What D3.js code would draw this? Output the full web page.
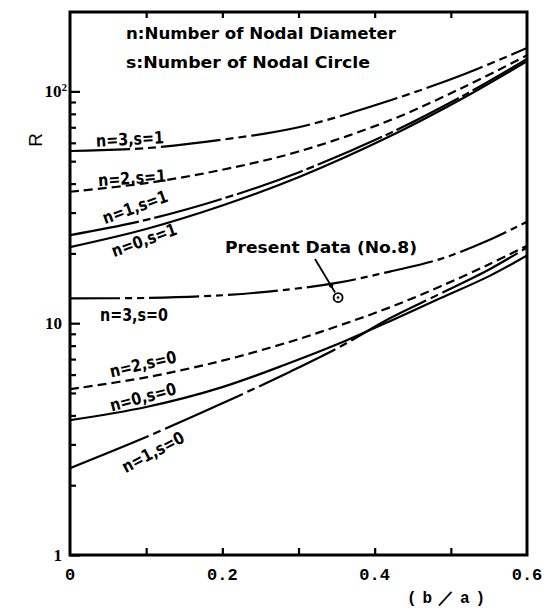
<!DOCTYPE html>
<meta charset="utf-8">
<head>
<script src="https://d3js.org/d3.v7.min.js"></script>
<style>
body { margin: 0; background: #fff; }
svg text { fill: #000; }
</style>
</head>
<body>
<div id="chart"></div>
<script>
var ba = [0, 0.1, 0.2, 0.3, 0.42, 0.52, 0.6];

// frequency parameter R for each mode (n nodal diameters, s nodal circles)
var r_n3s1 = [55.3, 56.9, 61.9, 70, 91.4, 119.5, 154];
var r_n2s1 = [36.9, 40.2, 45.9, 55, 75, 105.5, 143];
var r_n1s1 = [24.0, 27.9, 34.4, 44.7, 66, 97.3, 138];
var r_n0s1 = [21.3, 25.5, 32.2, 42.6, 64, 95, 135];

var ba0 = [0, 0.1, 0.2, 0.289, 0.354, 0.42, 0.486, 0.551, 0.6];
var r_n3s0 = [12.8, 12.85, 13.2, 14.0, 15.0, 16.7, 18.9, 22.9, 27.4];
var r_n2s0 = [5.19, 5.84, 6.89, 8.32, 9.78, 11.7, 14.4, 18.0, 21.6];
var r_n0s0 = [3.82, 4.35, 5.3, 6.75, 8.19, 10.2, 12.8, 16.0, 19.6];
var r_n1s0 = [2.37, 3.23, 4.51, 6.18, 7.9, 10.5, 13.4, 17.1, 21.2];

var modeNames = ["n=3,s=1", "n=2,s=1", "n=1,s=1", "n=0,s=1",
                 "n=3,s=0", "n=2,s=0", "n=0,s=0", "n=1,s=0"];

// present measured point (No.8)
var presentBa = 0.352, presentR = 12.9;

var xTicks = [0, 0.1, 0.2, 0.3, 0.4, 0.5, 0.6];
var xTickLabels = ["0", "", "0.2", "", "0.4", "", "0.6"];
var yMajor = [1, 10, 100];
var yMinor = [2, 3, 4, 5, 6, 7, 8, 9, 20, 30, 40, 50, 60, 70, 80, 90];

var width = 553, height = 608;
var pLeft = 70, pRight = 527, pTop = 12, pBottom = 555;

var svg = d3.select("#chart").append("svg")
    .attr("width", width)
    .attr("height", height);

var x = d3.scaleLinear().domain([0, 0.6]).range([pLeft, pRight]);
var y = d3.scaleLog().domain([1, 220]).range([pBottom, pTop]);

var series = [
  {xs: ba, rs: r_n3s1, dash: "60,5,8,5,8,5"},
  {xs: ba, rs: r_n2s1, dash: "9,5"},
  {xs: ba, rs: r_n1s1, dash: "70,4,8,4"},
  {xs: ba, rs: r_n0s1, dash: null},
  {xs: ba0, rs: r_n3s0, dash: "50,5,7,5,7,5"},
  {xs: ba0, rs: r_n2s0, dash: "9,5"},
  {xs: ba0, rs: r_n0s0, dash: null},
  {xs: ba0, rs: r_n1s0, dash: "85,5,8,5"}
];

var line = d3.line()
    .x(function(d) { return x(d[0]); })
    .y(function(d) { return y(d[1]); })
    .curve(d3.curveCatmullRom.alpha(0.5));

svg.append("defs").append("clipPath").attr("id", "plot")
  .append("rect").attr("x", pLeft).attr("y", pTop)
  .attr("width", pRight - pLeft).attr("height", pBottom - pTop);

svg.append("g").attr("clip-path", "url(#plot)")
  .selectAll("path").data(series).enter().append("path")
    .attr("d", function(s) { return line(s.xs.map(function(v, i) { return [v, s.rs[i]]; })); })
    .attr("fill", "none")
    .attr("stroke", "#000")
    .attr("stroke-width", 2.2)
    .attr("stroke-dasharray", function(s) { return s.dash; });

// ticks
var bottomAxis = d3.axisBottom(x).tickValues(xTicks.slice(1, 6)).tickSize(-7).tickFormat("");
var topAxis = d3.axisTop(x).tickValues(xTicks.slice(1, 6)).tickSize(-6).tickFormat("");
var leftMinor = d3.axisLeft(y).tickValues(yMinor).tickSize(-6).tickFormat("");
var leftMajor = d3.axisLeft(y).tickValues(yMajor).tickSize(-10).tickFormat("");

[[bottomAxis, "translate(0," + pBottom + ")"], [topAxis, "translate(0," + pTop + ")"],
 [leftMinor, "translate(" + pLeft + ",0)"], [leftMajor, "translate(" + pLeft + ",0)"]].forEach(function(a) {
  var g = svg.append("g").attr("transform", a[1]).call(a[0]);
  g.select(".domain").remove();
  g.selectAll("line").attr("stroke", "#000").attr("stroke-width", 2.2);
});

svg.append("rect")
    .attr("x", pLeft).attr("y", pTop)
    .attr("width", pRight - pLeft).attr("height", pBottom - pTop)
    .attr("fill", "none").attr("stroke", "#000").attr("stroke-width", 3);

// tick labels
svg.selectAll(".xl").data(xTicks).enter().append("text")
    .attr("x", function(d) { return x(d); })
    .attr("y", 580)
    .attr("text-anchor", "middle")
    .style("font", "bold 17px 'Liberation Mono', monospace")
    .text(function(d, i) { return xTickLabels[i]; });

svg.append("text")
    .attr("x", 446).attr("y", 603)
    .attr("text-anchor", "middle")
    .attr("textLength", 78)
    .style("font", "bold 16px 'Liberation Mono', monospace")
    .text("(b／a)");

var yl = svg.selectAll(".yl").data(yMajor).enter().append("text")
    .attr("x", function(d) { return d === 100 ? 67 : 62; })
    .attr("y", function(d) { return y(d) + 6; })
    .attr("text-anchor", "end")
    .style("font", "bold 17px 'Liberation Serif', serif");
yl.each(function(d) {
  var t = d3.select(this);
  if (d === 100) {
    t.append("tspan").text("10");
    t.append("tspan").attr("dy", -6).style("font-size", "11px").text("2");
  } else {
    t.text(d);
  }
});

svg.append("text")
    .attr("transform", "translate(42,140) rotate(-90)")
    .attr("text-anchor", "middle")
    .style("font", "19px 'Liberation Sans', sans-serif")
    .text("R");

// legend text
var condensed = "'DejaVu Sans Condensed', 'Liberation Sans Narrow', sans-serif";
svg.append("text").attr("x", 126).attr("y", 39)
    .attr("textLength", 270).attr("lengthAdjust", "spacingAndGlyphs")
    .style("font", "bold 16px " + condensed)
    .text("n:Number of Nodal Diameter");
svg.append("text").attr("x", 126).attr("y", 68)
    .attr("textLength", 244).attr("lengthAdjust", "spacingAndGlyphs")
    .style("font", "bold 16px " + condensed)
    .text("s:Number of Nodal Circle");

// curve labels
var labelPos = [
  [130, 139, -3], [132, 178, -4], [135, 207, -20], [144, 240, -20],
  [134, 315, 0], [143, 364, -13], [143, 397, -15], [153, 452, -28]
];
svg.selectAll(".ml").data(modeNames).enter().append("text")
    .attr("transform", function(d, i) {
      var p = labelPos[i];
      return "translate(" + p[0] + "," + p[1] + ") rotate(" + p[2] + ")";
    })
    .attr("text-anchor", "middle")
    .attr("dominant-baseline", "central")
    .attr("textLength", 68).attr("lengthAdjust", "spacingAndGlyphs")
    .style("font", "bold 17px " + condensed)
    .text(function(d) { return d; });

// present data annotation
var px = x(presentBa), py = y(presentR);
svg.append("text").attr("x", 225).attr("y", 253)
    .attr("textLength", 192).attr("lengthAdjust", "spacingAndGlyphs")
    .style("font", "bold 16px " + condensed)
    .text("Present Data (No.8)");
svg.append("line")
    .attr("x1", 315).attr("y1", 259)
    .attr("x2", px - 3).attr("y2", py - 5)
    .attr("stroke", "#000").attr("stroke-width", 1.8);
svg.append("circle").attr("cx", px - 7).attr("cy", py - 12).attr("r", 2.2).attr("fill", "#000");
svg.append("circle").attr("cx", px).attr("cy", py).attr("r", 4.5)
    .attr("fill", "#fff").attr("stroke", "#000").attr("stroke-width", 1.8);
svg.append("circle").attr("cx", px).attr("cy", py).attr("r", 1.3).attr("fill", "#000");
</script>
</body>
